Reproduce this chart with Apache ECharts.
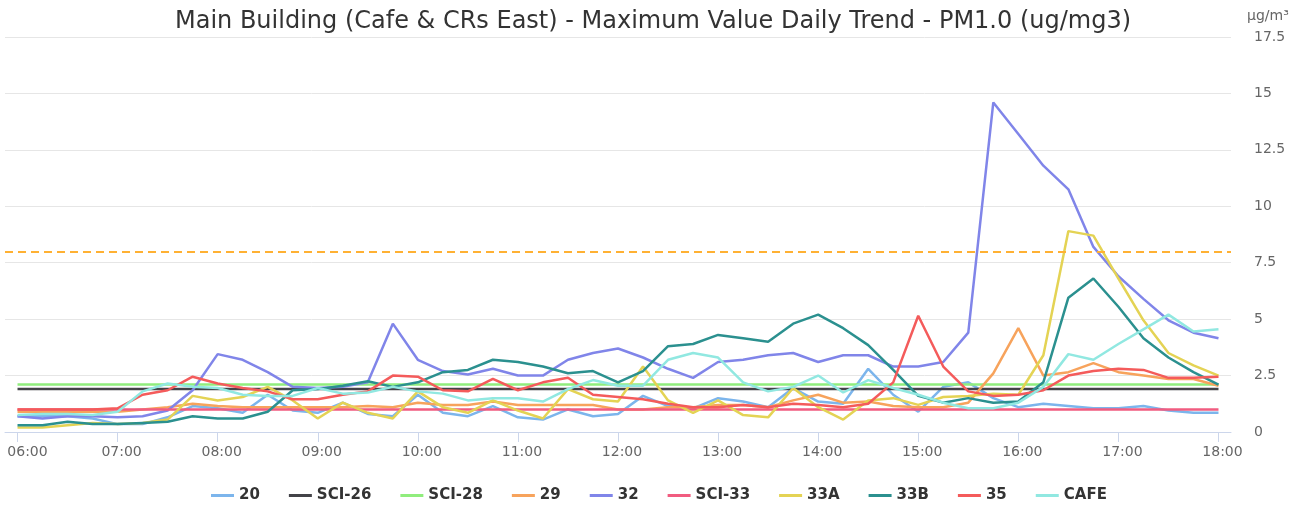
<!DOCTYPE html>
<html>
<head>
<meta charset="utf-8">
<script src="https://cdn.jsdelivr.net/npm/echarts@6/dist/echarts.min.js"></script>
<style>
html,body{margin:0;padding:0;background:#fff;}
#chart{width:1306px;height:509px;}
</style>
</head>
<body>
<div id="chart"></div>
<script>
const categories = ['06:00','06:15','06:30','06:45','07:00','07:15','07:30','07:45','08:00','08:15','08:30','08:45','09:00','09:15','09:30','09:45','10:00','10:15','10:30','10:45','11:00','11:15','11:30','11:45','12:00','12:15','12:30','12:45','13:00','13:15','13:30','13:45','14:00','14:15','14:30','14:45','15:00','15:15','15:30','15:45','16:00','16:15','16:30','16:45','17:00','17:15','17:30','17:45','18:00'];
const yTicks = [0, 2.5, 5, 7.5, 10, 12.5, 15, 17.5];
const limitValue = 8;

const s20 = [0.7,0.7,0.7,0.6,0.35,0.35,0.65,1.15,1.05,0.85,1.65,0.95,0.85,1.3,0.8,0.7,1.65,0.85,0.7,1.15,0.65,0.55,1.0,0.7,0.8,1.6,1.15,1.05,1.5,1.35,1.1,1.95,1.35,1.25,2.8,1.65,0.9,2.0,2.2,1.5,1.1,1.25,1.15,1.05,1.05,1.15,0.95,0.85,0.85];
const sSCI26 = [1.9,1.9,1.9,1.9,1.9,1.9,1.9,1.9,1.9,1.9,1.9,1.9,1.9,1.9,1.9,1.9,1.9,1.9,1.9,1.9,1.9,1.9,1.9,1.9,1.9,1.9,1.9,1.9,1.9,1.9,1.9,1.9,1.9,1.9,1.9,1.9,1.9,1.9,1.9,1.9,1.9,1.9,1.9,1.9,1.9,1.9,1.9,1.9,1.9];
const sSCI28 = [2.1,2.1,2.1,2.1,2.1,2.1,2.1,2.1,2.1,2.1,2.1,2.1,2.1,2.1,2.1,2.1,2.1,2.1,2.1,2.1,2.1,2.1,2.1,2.1,2.1,2.1,2.1,2.1,2.1,2.1,2.1,2.1,2.1,2.1,2.1,2.1,2.1,2.1,2.1,2.1,2.1,2.1,2.1,2.1,2.1,2.1,2.1,2.1,2.1];
const s29 = [0.9,0.9,0.9,0.9,0.9,1.0,1.1,1.25,1.15,1.1,1.1,1.1,1.1,1.1,1.15,1.1,1.3,1.2,1.2,1.35,1.2,1.2,1.2,1.2,1.0,1.0,1.1,1.1,1.2,1.2,1.1,1.4,1.65,1.3,1.35,1.15,1.1,1.1,1.3,2.6,4.6,2.5,2.65,3.05,2.65,2.5,2.35,2.35,2.05];
const s32 = [0.7,0.6,0.7,0.7,0.65,0.7,0.95,1.85,3.45,3.2,2.65,2.0,1.95,2.0,2.2,4.8,3.2,2.7,2.55,2.8,2.5,2.5,3.2,3.5,3.7,3.3,2.8,2.4,3.1,3.2,3.4,3.5,3.1,3.4,3.4,2.9,2.9,3.1,4.4,14.6,13.2,11.8,10.75,8.2,6.9,5.9,4.95,4.4,4.15];
const sSCI33 = [1.0,1.0,1.0,1.0,1.0,1.0,1.0,1.0,1.0,1.0,1.0,1.0,1.0,1.0,1.0,1.0,1.0,1.0,1.0,1.0,1.0,1.0,1.0,1.0,1.0,1.0,1.0,1.0,1.0,1.0,1.0,1.0,1.0,1.0,1.0,1.0,1.0,1.0,1.0,1.0,1.0,1.0,1.0,1.0,1.0,1.0,1.0,1.0,1.0];
const s33A = [0.2,0.2,0.3,0.4,0.35,0.4,0.55,1.6,1.4,1.55,2.0,1.4,0.6,1.3,0.85,0.6,1.8,1.1,0.85,1.4,0.95,0.6,1.9,1.45,1.35,2.9,1.4,0.85,1.4,0.75,0.65,1.95,1.1,0.55,1.4,1.5,1.2,1.55,1.6,1.7,1.65,3.4,8.9,8.7,6.8,4.95,3.5,2.95,2.5];
const s33B = [0.3,0.3,0.45,0.35,0.35,0.4,0.45,0.7,0.6,0.6,0.9,1.85,1.9,2.05,2.25,2.0,2.2,2.65,2.75,3.2,3.1,2.9,2.6,2.7,2.2,2.7,3.8,3.9,4.3,4.15,4.0,4.8,5.2,4.6,3.85,2.75,1.6,1.3,1.5,1.3,1.35,2.2,5.95,6.8,5.55,4.15,3.3,2.65,2.1];
const s35 = [1.0,1.0,1.0,1.0,1.05,1.65,1.85,2.45,2.15,1.95,1.8,1.45,1.45,1.65,1.8,2.5,2.45,1.85,1.8,2.35,1.85,2.2,2.4,1.65,1.55,1.45,1.25,1.1,1.1,1.2,1.1,1.25,1.2,1.1,1.25,2.2,5.15,2.9,1.8,1.6,1.65,1.85,2.5,2.7,2.8,2.75,2.4,2.4,2.45];
const sCAFE = [0.75,0.8,0.8,0.75,0.9,1.8,2.15,2.0,1.95,1.65,1.6,1.6,1.95,1.7,1.75,2.0,1.8,1.7,1.4,1.5,1.5,1.35,1.9,2.3,2.05,2.05,3.2,3.5,3.3,2.2,1.8,2.0,2.5,1.75,2.3,1.95,1.65,1.3,1.05,1.05,1.3,2.0,3.45,3.2,3.9,4.55,5.2,4.45,4.55];

const seriesNames = ['20','SCI-26','SCI-28','29','32','SCI-33','33A','33B','35','CAFE'];
const seriesData = [s20, sSCI26, sSCI28, s29, s32, sSCI33, s33A, s33B, s35, sCAFE];
const colors = ['#7cb5ec','#434348','#90ed7d','#f7a35c','#8085e9','#f15c80','#e4d354','#2b908f','#f45b5b','#91e8e1'];

const FONT = 'DejaVu Sans';
const chart = echarts.init(document.getElementById('chart'), null, {renderer: 'canvas'});

const series = seriesNames.map((name, i) => {
  const s = {
    name: name,
    type: 'line',
    data: seriesData[i],
    showSymbol: false,
    symbol: 'none',
    smooth: false,
    lineStyle: {width: 2.5, color: colors[i]},
    itemStyle: {color: colors[i]},
    emphasis: {disabled: true},
    animation: false
  };
  if (i === 0) {
    s.markLine = {
      silent: true,
      symbol: 'none',
      label: {show: false},
      lineStyle: {color: '#ffb133', type: [8, 5], width: 2},
      data: [{yAxis: limitValue}]
    };
  }
  return s;
});

chart.setOption({
  animation: false,
  color: colors,
  textStyle: {fontFamily: FONT},
  title: {
    text: 'Main Building (Cafe & CRs East) - Maximum Value Daily Trend - PM1.0 (ug/mg3)',
    left: 'center',
    top: 5,
    textStyle: {fontFamily: FONT, fontSize: 24, fontWeight: 'normal', color: '#333333'}
  },
  legend: {
    bottom: 1,
    left: 206,
    icon: 'rect',
    itemWidth: 23,
    itemHeight: 3,
    itemGap: 29,
    textStyle: {fontFamily: FONT, fontSize: 15, fontWeight: 'bold', color: '#333333'},
    data: seriesNames
  },
  grid: {left: 5, right: 75, top: 37, bottom: 77, containLabel: false},
  xAxis: {
    type: 'category',
    data: categories,
    boundaryGap: true,
    axisLine: {show: true, lineStyle: {color: '#ccd6eb', width: 1}},
    axisTick: {show: true, interval: 3, alignWithLabel: true, length: 10, lineStyle: {color: '#ccd6eb'}},
    axisLabel: {
      interval: 3,
      color: '#666666',
      fontSize: 14,
      fontFamily: FONT,
      margin: 13,
      formatter: function (v, idx) { return idx === 0 ? '{f|' + v + '}' : '{a|' + v + '}'; },
      rich: {
        a: {padding: [0, 0, 0, 8], color: '#666666', fontSize: 14, fontFamily: FONT},
        f: {padding: [0, 0, 0, 20], color: '#666666', fontSize: 14, fontFamily: FONT}
      }
    },
    splitLine: {show: false}
  },
  yAxis: {
    type: 'value',
    position: 'right',
    min: yTicks[0],
    max: yTicks[yTicks.length - 1],
    interval: 2.5,
    name: 'µg/m³',
    nameLocation: 'end',
    nameGap: 14,
    nameTextStyle: {color: '#666666', fontSize: 14, fontFamily: FONT, align: 'left', padding: [0, 0, 0, 16]},
    axisLine: {show: false},
    axisTick: {show: false},
    axisLabel: {color: '#666666', fontSize: 14, fontFamily: FONT, margin: 23},
    splitLine: {show: true, lineStyle: {color: '#e6e6e6', width: 1}}
  },
  series: series
});
</script>
</body>
</html>
